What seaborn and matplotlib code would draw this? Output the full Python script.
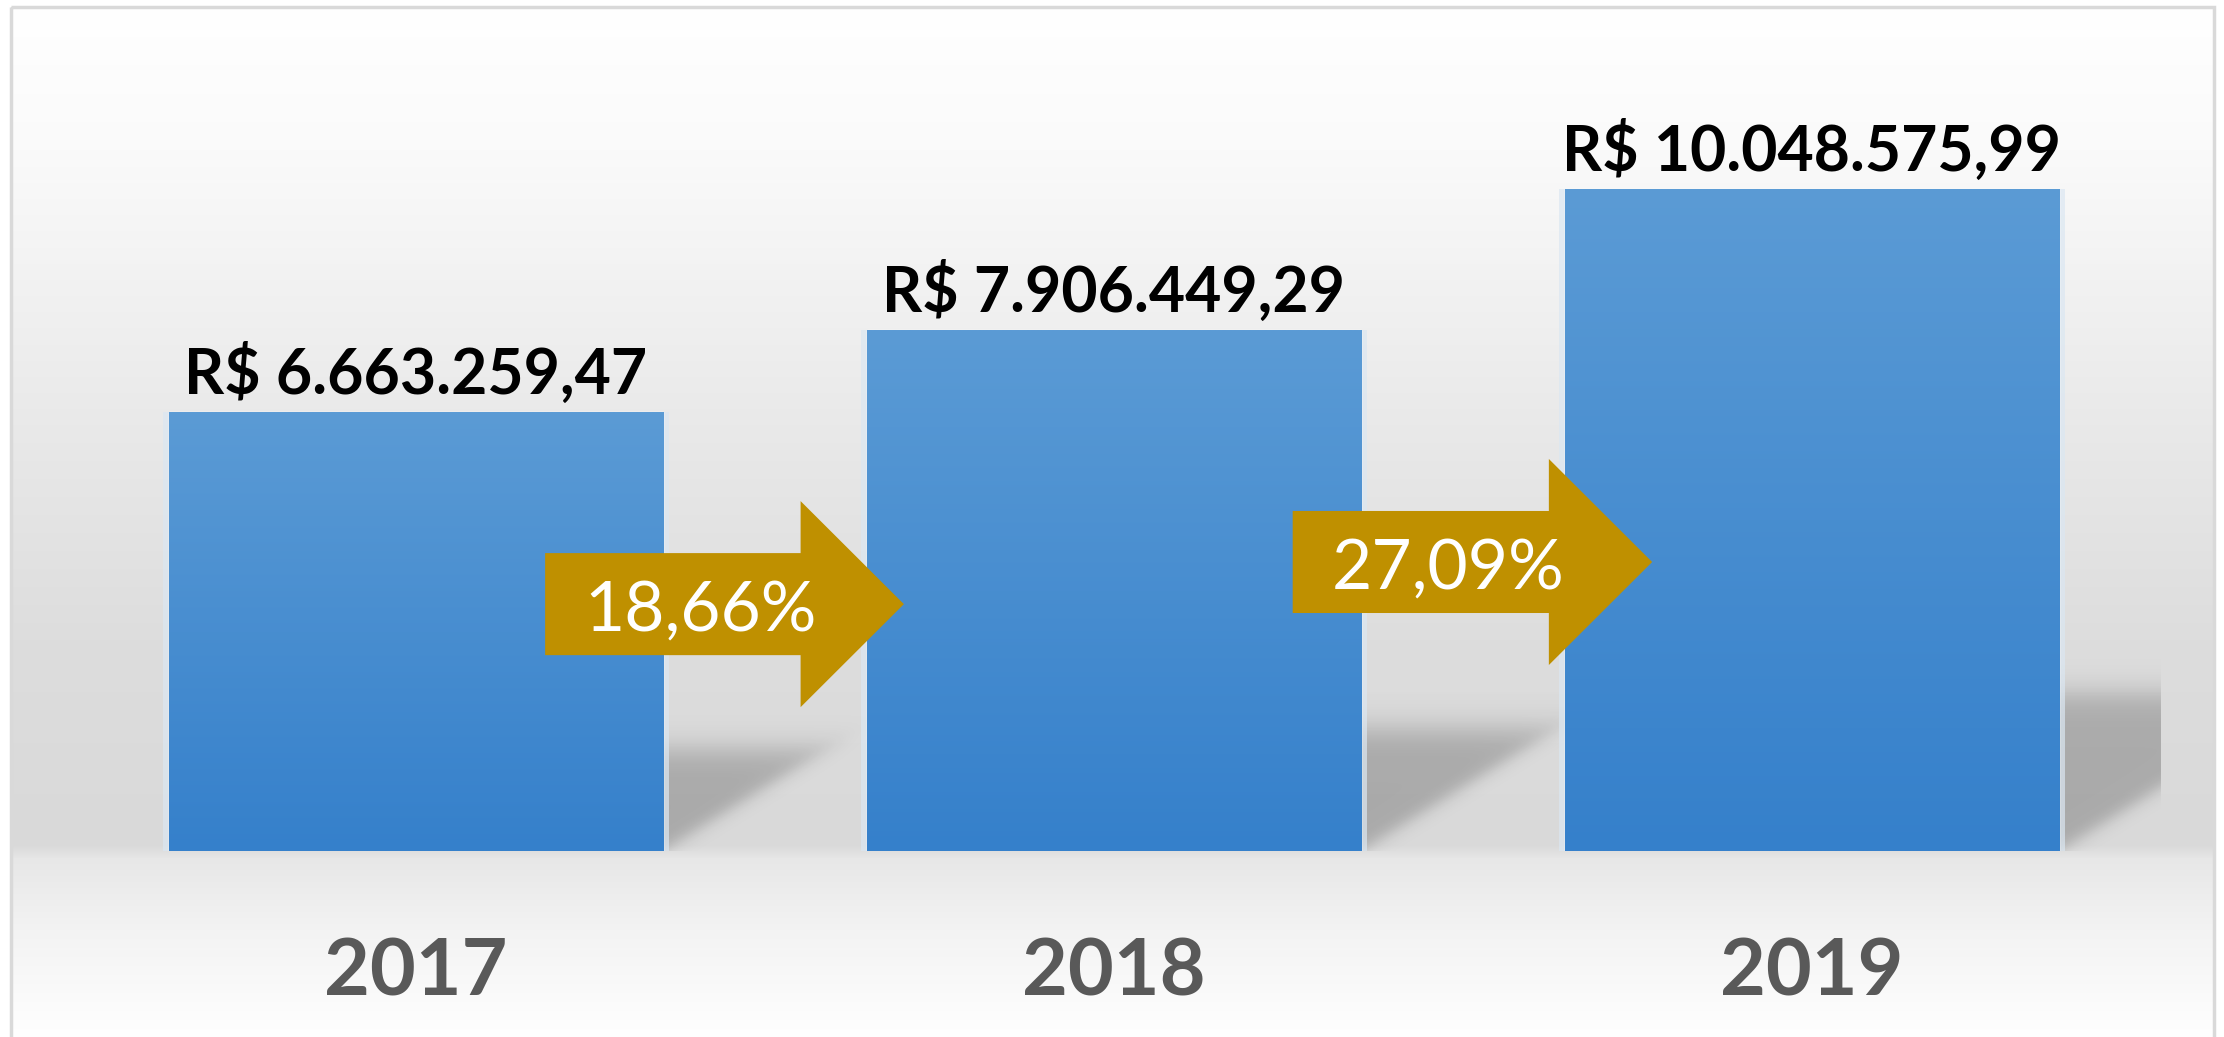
import numpy as np
import matplotlib
matplotlib.use('Agg')
import matplotlib.pyplot as plt
from matplotlib.colors import LinearSegmentedColormap
from matplotlib.patches import Rectangle, FancyArrow
import seaborn as sns

# ─── DATA ────────────────────────────────────────────────────────────────
years = ['2017', '2018', '2019']
revenue = [6663259.47, 7906449.29, 10048575.99]
growth_labels = ['18,66%', '27,09%']

# ─── STYLE ───────────────────────────────────────────────────────────────
BAR_TOP = '#5B9BD5'
BAR_BOTTOM = '#3580CB'
GOLD = '#BF9000'
W, H = 2224, 1037


def brl(v):
    # Brazilian money format: R$ 1.234.567,89
    s = f'{v:,.2f}'.replace(',', 'X').replace('.', ',').replace('X', '.')
    return 'R$ ' + s


def soft(d):
    return 0.5 * (1 + np.tanh(d))


sns.set_style('white')
plt.rcParams['font.family'] = ['Lato', 'DejaVu Sans']

fig = plt.figure(figsize=(W / 100, H / 100), dpi=100)

# background card with vertical grey gradient
bg = fig.add_axes([0, 0, 1, 1])
bg.set_xlim(0, W)
bg.set_ylim(H, 0)
bg.axis('off')
stops_y = [8, 150, 425, 640, 845, 858, 930, 1037]
stops_v = [255, 250, 233, 221, 217, 231, 243, 255]
rows = np.interp(np.arange(8, H), stops_y, stops_v) / 255
grad = np.repeat(rows[:, None], 2, axis=1)
bg.imshow(np.dstack([grad] * 3), extent=(12, W - 10, H, 8),
          aspect='auto', interpolation='bilinear')
bg.add_patch(Rectangle((11, 7), W - 21, H + 20, fill=False, ec='#d9d9d9', lw=2.5))

# ─── BARS ────────────────────────────────────────────────────────────────
ax = fig.add_axes([67 / W, 1 - 851 / H, 2094 / W, 790 / H])
ax.patch.set_alpha(0)
sns.barplot(x=years, y=revenue, color=BAR_BOTTOM, saturation=1,
            width=0.709, ax=ax, zorder=3)
ax.set_xlim(-0.5, 2.5)
ax.set_ylim(0, 12e6)
sns.despine(ax=ax, left=True, bottom=True)
ax.set_yticks([])
ax.set_xlabel('')
ax.set_ylabel('')
ax.tick_params(axis='x', length=0, pad=62, labelsize=57, labelcolor='#595959')
for lbl in ax.get_xticklabels():
    lbl.set_fontweight('bold')

# pixel scale of the data axes (for shadow geometry)
(p0x, p0y), (p1x, p1y) = ax.transData.transform([(0, 0), (1, 1e6)])
px_x, px_y = p1x - p0x, p1y - p0y

bar_cmap = LinearSegmentedColormap.from_list('bar', [BAR_BOTTOM, BAR_TOP])
ramp = np.linspace(0, 1, 256)[:, None]

for p in ax.patches:
    x0, w, h = p.get_x(), p.get_width(), p.get_height()
    # gradient fill
    ax.imshow(ramp, cmap=bar_cmap, extent=(x0, x0 + w, 0, h), origin='lower',
              aspect='auto', zorder=4, interpolation='bilinear')
    # faint glow on the sides
    ax.add_patch(Rectangle((x0 - 0.008, 0), w + 0.016, h, color='#dbe7f2',
                           alpha=0.7, lw=0, zorder=2.5))
    # soft shadow cast up and to the right
    sh_px = 0.25 * h / 1e6 * px_y
    dx_px = 1.6 * sh_px
    blur = 17
    xa, xb = x0 + w - 0.02, x0 + w + (dx_px + 3 * blur) / px_x
    ya, yb = 0, (sh_px + 3 * blur) / px_y * 1e6
    X, Y = np.meshgrid(np.linspace(xa, xb, 300), np.linspace(ya, yb, 200))
    Xp = (X - (x0 + w)) * px_x
    Yp = Y / 1e6 * px_y
    U = Xp - Yp * dx_px / sh_px
    a = 0.22 * soft(-U / blur) * soft((sh_px - 8 - Yp) / blur)
    img = np.zeros(a.shape + (4,))
    img[..., 3] = a
    ax.imshow(img, extent=(xa, xb, ya, yb), origin='lower', aspect='auto',
              zorder=2, interpolation='bilinear')
    # value label
    ax.annotate(brl(h), (x0 + w / 2, h), xytext=(0, 13.5),
                textcoords='offset points', ha='center', va='baseline',
                fontsize=45, fontweight='bold', color='black', zorder=6)

ax.set_xlim(-0.5, 2.5)
ax.set_ylim(0, 12e6)

# ─── GROWTH ARROWS ───────────────────────────────────────────────────────
arrow_start = [0.185, 1.256]
arrow_end = [0.699, 1.771]
arrow_cy = [3.75e6, 4.39e6]
for lbl, xs, xe, cy in zip(growth_labels, arrow_start, arrow_end, arrow_cy):
    ax.add_patch(FancyArrow(xs, cy, xe - xs, 0, width=1.55e6, head_width=3.13e6,
                            head_length=0.148, length_includes_head=True,
                            color=GOLD, lw=0, zorder=5))
    ax.text(xs + 0.222, cy - 0.40e6, lbl, ha='center', va='baseline',
            fontsize=50, color='white', zorder=6)

fig.savefig('out.png', dpi=100)
